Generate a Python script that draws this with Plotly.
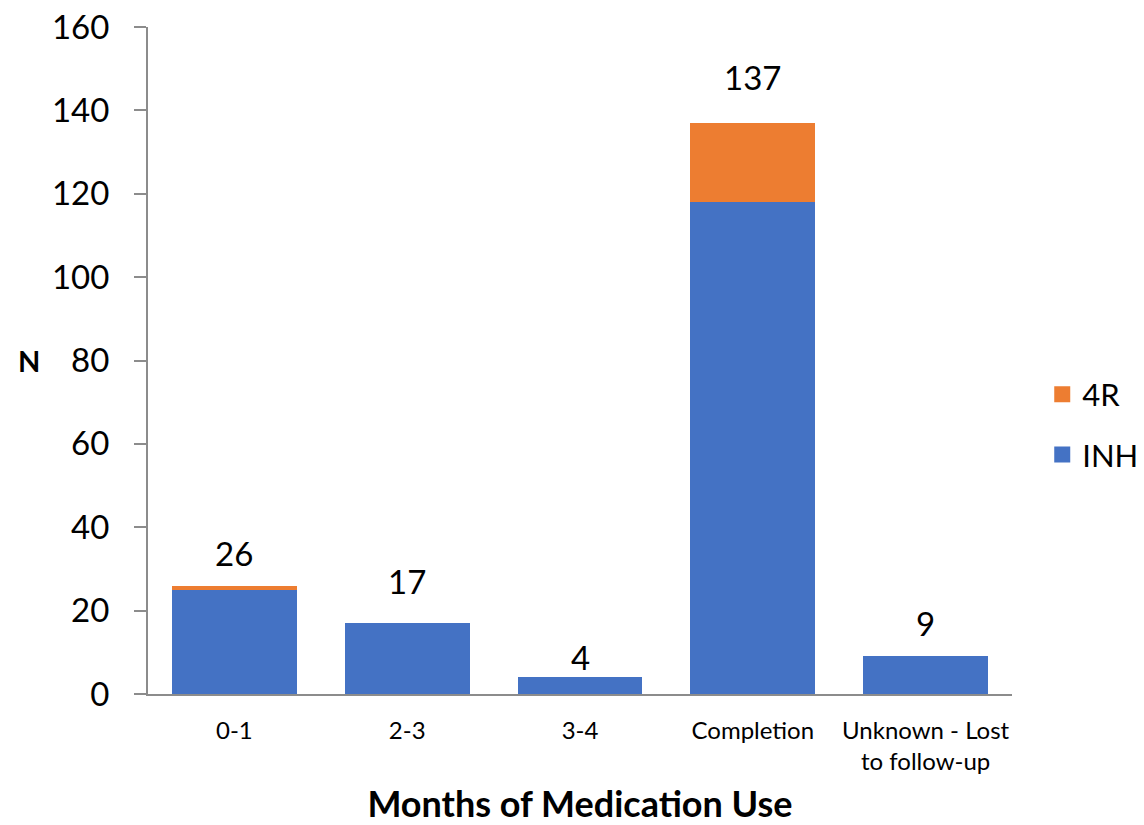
import plotly.graph_objects as go

categories = ["0-1", "2-3", "3-4", "Completion", "Unknown - Lost<br>to follow-up"]
inh = [25, 17, 4, 118, 9]
four_r = [1, 0, 0, 19, 0]
totals = [a + b for a, b in zip(inh, four_r)]
label_shift = [11, 20, -2, 24, 11]

FONT = "Lato, Carlito, Calibri, sans-serif"
BLUE = "#4472C4"
ORANGE = "#ED7D31"
AXIS = "#8C8C8C"

fig = go.Figure()
fig.add_trace(go.Bar(x=categories, y=inh, name="INH", marker_color=BLUE,
                     marker_line_width=0, showlegend=False))
fig.add_trace(go.Bar(x=categories, y=four_r, name="4R", marker_color=ORANGE,
                     marker_line_width=0, showlegend=False))

# legend entries with larger square swatches (4R listed above INH)
for name, color in [("4R", ORANGE), ("INH", BLUE)]:
    fig.add_trace(go.Scatter(x=[None], y=[None], mode="markers", name=name,
                             legendgroup=name,
                             marker=dict(symbol="square", size=16, color=color)))

for cat, tot, sh in zip(categories, totals, label_shift):
    fig.add_annotation(x=cat, y=tot, text=str(tot), showarrow=False,
                       yanchor="bottom", yshift=sh,
                       font=dict(family=FONT, size=33, color="black"))

fig.add_annotation(xref="paper", yref="paper", x=-0.153, y=0.5, text="<b>N</b>",
                   showarrow=False, font=dict(family=FONT, size=29, color="black"))

fig.update_layout(
    barmode="stack",
    bargap=0.277,
    width=1144, height=825,
    margin=dict(l=148, r=132, t=27, b=131, autoexpand=False),
    plot_bgcolor="white", paper_bgcolor="white",
    font=dict(family=FONT, color="black"),
    legend=dict(traceorder="grouped", x=1.035, y=0.404, yanchor="middle",
                xanchor="left", font=dict(size=31), itemsizing="trace",
                tracegroupgap=17),
    xaxis=dict(showline=True, linecolor=AXIS, linewidth=2, ticks="",
               tickfont=dict(size=24), ticklabelstandoff=14, automargin=False,
               title=dict(text="<b>Months of Medication Use</b>",
                          font=dict(size=36), standoff=22)),
    yaxis=dict(range=[0, 160], dtick=20, showline=True, linecolor=AXIS,
               linewidth=2, ticks="outside", ticklen=12, tickcolor=AXIS,
               tickwidth=2, showgrid=False, zeroline=False, automargin=False,
               ticklabelstandoff=18, tickfont=dict(size=33)),
)

fig.write_html("out.html")
